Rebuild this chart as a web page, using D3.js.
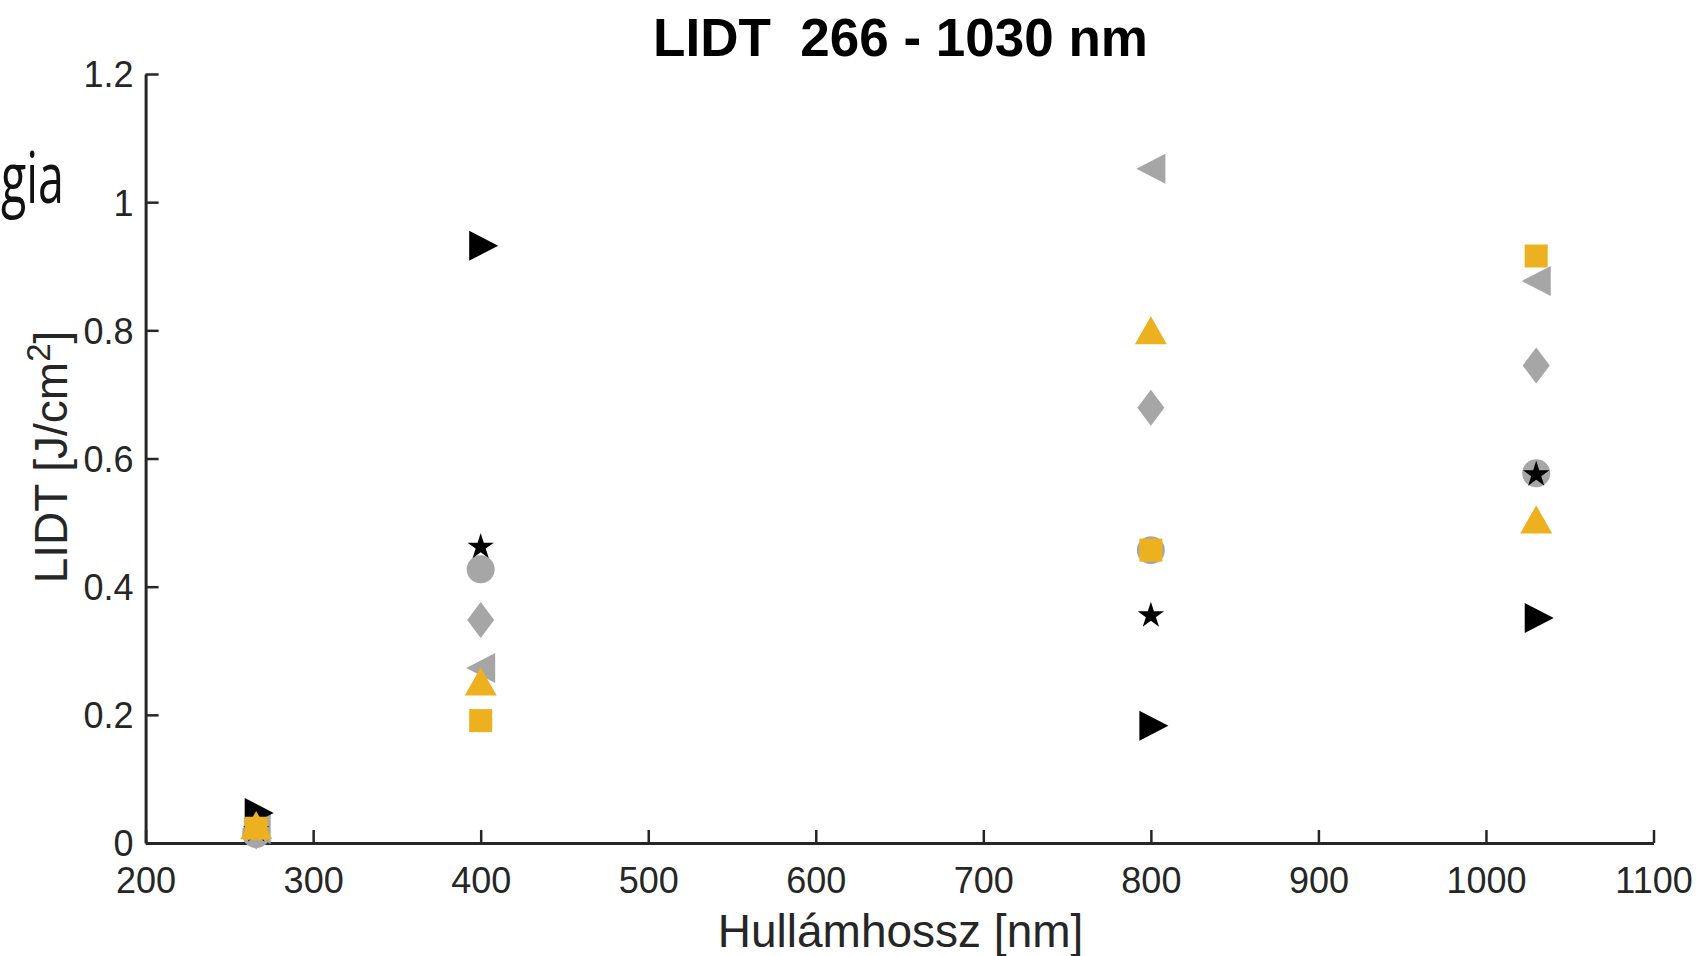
<!DOCTYPE html>
<html>
<head>
<meta charset="utf-8">
<script src="https://cdn.jsdelivr.net/npm/d3@7"></script>
<style>
  html, body { margin: 0; padding: 0; background: #ffffff; }
  svg { display: block; }
  text { font-family: "Liberation Sans", Arial, sans-serif; }
</style>
</head>
<body>
<svg id="chart" width="1704" height="956"></svg>
<script>
// ---------- data ----------
const wavelengths = [266, 400, 800, 1030];
const xTicks = [200, 300, 400, 500, 600, 700, 800, 900, 1000, 1100];
const yTicks = [0, 0.2, 0.4, 0.6, 0.8, 1, 1.2];
const xTickLabels = ["200", "300", "400", "500", "600", "700", "800", "900", "1000", "1100"];
const yTickLabels = ["0", "0.2", "0.4", "0.6", "0.8", "1", "1.2"];

const circleGrey   = [0.014, 0.427, 0.457, 0.577];
const diamondGrey  = [0.018, 0.348, 0.679, 0.745];
const leftTriGrey  = [0.022, 0.273, 1.052, 0.877];
const starBlack    = [0.020, 0.462, 0.355, 0.575];
const rightTriBlack= [0.047, 0.932, 0.183, 0.351];
const upTriYellow  = [0.028, 0.252, 0.800, 0.505];
const squareYellow = [0.023, 0.191, 0.457, 0.916];

const titleText = "LIDT\u00a0\u00a0266 - 1030 nm";
const xLabelText = "Hullámhossz [nm]";

// ---------- layout ----------
const plotLeft = 145.6, plotRight = 1653.5, plotTop = 74, plotBottom = 843;
const GREY = "#a6a6a6", YELLOW = "#EDB120", BLACK = "#000000", AXIS = "#262626";

const svg = d3.select("#chart");
const x = d3.scaleLinear().domain([200, 1100]).range([plotLeft, plotRight]);
const y = d3.scaleLinear().domain([0, 1.2]).range([plotBottom, plotTop]);

// slide text fragment at left
svg.append("text")
  .attr("x", 1).attr("y", 203)
  .attr("textLength", 63).attr("lengthAdjust", "spacingAndGlyphs")
  .style("font-family", "'Open Sans', 'Noto Sans', sans-serif")
  .style("font-size", "72px").attr("fill", "#111")
  .text("gia");

// title
svg.append("text")
  .attr("x", (plotLeft + plotRight) / 2 + 1).attr("y", 56)
  .attr("text-anchor", "middle")
  .style("font-size", "53px").style("font-weight", "bold")
  .attr("fill", "#000")
  .text(titleText);

// axes
const xAxis = d3.axisBottom(x).tickValues(xTicks)
  .tickFormat((d, i) => xTickLabels[i]).tickSizeInner(-13).tickSizeOuter(0).tickPadding(0);
const gx = svg.append("g").attr("transform", `translate(0,${plotBottom})`).call(xAxis);
gx.select(".domain").attr("stroke", AXIS).attr("stroke-width", 3);
gx.selectAll(".tick line").attr("stroke", AXIS).attr("stroke-width", 2.5);
gx.selectAll(".tick text").attr("fill", AXIS).style("font-size", "36px")
  .attr("y", 50).attr("dy", 0);

const yAxis = d3.axisLeft(y).tickValues(yTicks)
  .tickFormat((d, i) => yTickLabels[i]).tickSizeInner(-13).tickSizeOuter(0).tickPadding(0);
const gy = svg.append("g").attr("transform", `translate(${plotLeft},0)`).call(yAxis);
gy.select(".domain").attr("stroke", AXIS).attr("stroke-width", 3);
gy.selectAll(".tick line").attr("stroke", AXIS).attr("stroke-width", 2.5);
gy.selectAll(".tick text").attr("fill", AXIS).style("font-size", "36px")
  .attr("x", -12).attr("dy", "0.36em");

// axis labels
svg.append("text")
  .attr("x", (plotLeft + plotRight) / 2 + 1).attr("y", 947)
  .attr("text-anchor", "middle")
  .style("font-size", "46px").attr("fill", AXIS)
  .text(xLabelText);

const yl = svg.append("text")
  .attr("transform", `translate(67,457) rotate(-90)`)
  .attr("text-anchor", "middle")
  .style("font-size", "46px").attr("fill", AXIS);
yl.append("tspan").text("LIDT [J/cm");
yl.append("tspan").attr("dy", -17).style("font-size", "33px").text("2");
yl.append("tspan").attr("dy", 17).text("]");

// ---------- marker shapes (custom d3 symbol types) ----------
const symDiamond = { draw(c, s) { const w = 13.5, h = 18; c.moveTo(0, -h); c.lineTo(w, 0); c.lineTo(0, h); c.lineTo(-w, 0); c.closePath(); } };
const symLeftTri = { draw(c, s) { const w = 14.5, h = 15; c.moveTo(-w, 0); c.lineTo(w, -h); c.lineTo(w, h); c.closePath(); } };
const symRightTri = { draw(c, s) { const w = 14.5, h = 15; c.moveTo(w + 3, 0); c.lineTo(-w + 3, -h); c.lineTo(-w + 3, h); c.closePath(); } };
const symUpTri = { draw(c, s) { const w = 16, h = 14; c.moveTo(0, -h); c.lineTo(w, h); c.lineTo(-w, h); c.closePath(); } };
const symSquare = { draw(c, s) { const a = 11.5; c.rect(-a, -a, 2 * a, 2 * a); } };

const seriesList = [
  { vals: circleGrey,    type: d3.symbolCircle, size: 616, color: GREY },
  { vals: diamondGrey,   type: symDiamond,      size: 1,   color: GREY },
  { vals: leftTriGrey,   type: symLeftTri,      size: 1,   color: GREY },
  { vals: starBlack,     type: d3.symbolStar,   size: 215, color: BLACK },
  { vals: rightTriBlack, type: symRightTri,     size: 1,   color: BLACK },
  { vals: upTriYellow,   type: symUpTri,        size: 1,   color: YELLOW },
  { vals: squareYellow,  type: symSquare,       size: 1,   color: YELLOW }
];

seriesList.forEach(s => {
  const sym = d3.symbol().type(s.type).size(s.size);
  svg.append("g").selectAll("path")
    .data(wavelengths.map((w, i) => ({ w, v: s.vals[i] })))
    .join("path")
    .attr("transform", d => `translate(${x(d.w)},${y(d.v)})`)
    .attr("d", sym())
    .attr("fill", s.color);
});
</script>
</body>
</html>
